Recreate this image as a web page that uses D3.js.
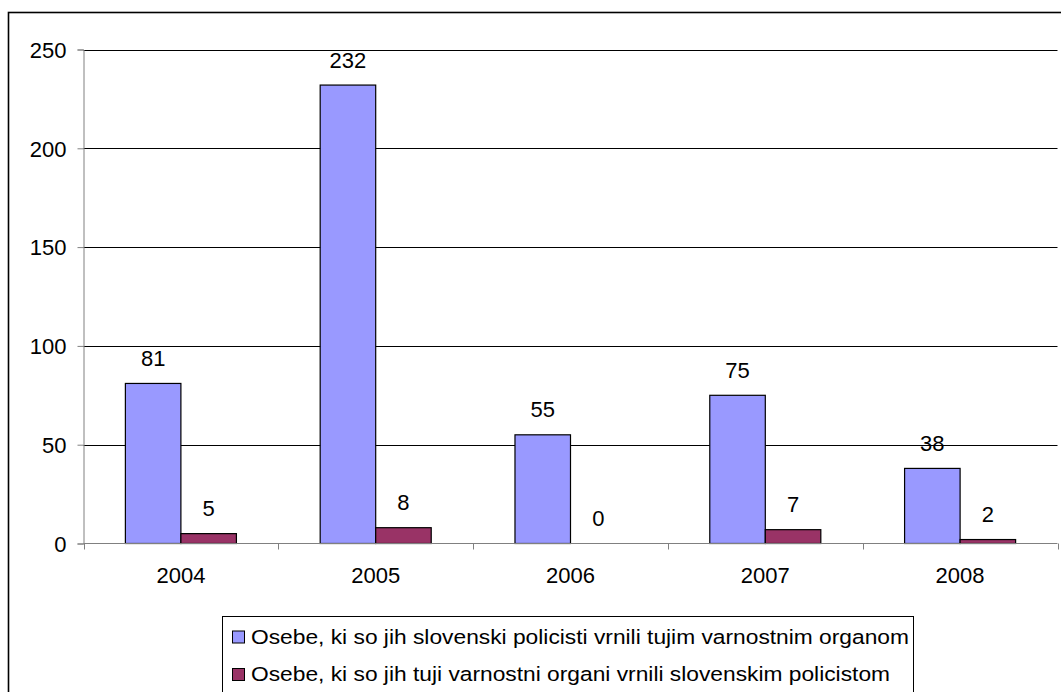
<!DOCTYPE html>
<html>
<head>
<meta charset="utf-8">
<script src="https://cdn.jsdelivr.net/npm/d3@7"></script>
<style>
  html, body { margin: 0; padding: 0; background: #fff; overflow: hidden; }
  text { font-family: "Liberation Sans", Arial, sans-serif; fill: #000; }
</style>
</head>
<body>
<svg id="chart" width="1061" height="692"></svg>
<script>
const categories = ["2004", "2005", "2006", "2007", "2008"];
const seriesNames = [
  "Osebe, ki so jih slovenski policisti vrnili tujim varnostnim organom",
  "Osebe, ki so jih tuji varnostni organi vrnili slovenskim policistom"
];
const returnedBySlovenian = [81, 232, 55, 75, 38];
const returnedToSlovenian = [5, 8, 0, 7, 2];
const yTicks = [0, 50, 100, 150, 200, 250];
const colors = ["#9999FF", "#993366"];

const svg = d3.select("#chart");
const W = 1061, H = 692;
const FS = 22;

// outer chart border
svg.append("rect")
  .attr("x", 8.5).attr("y", 12.5)
  .attr("width", W + 20).attr("height", H + 20)
  .attr("fill", "none").attr("stroke", "#000").attr("stroke-width", 1.6);

const plot = { left: 83.5, right: 1057.5, top: 49.5, bottom: 543.5 };

const x = d3.scaleBand().domain(categories).range([plot.left, plot.right]);
const y = d3.scaleLinear().domain([0, 250]).range([plot.bottom, plot.top]);
const bw = x.bandwidth() * 0.285;

// gridlines
svg.append("g").selectAll("line")
  .data(yTicks.filter(d => d > 0))
  .join("line")
  .attr("x1", plot.left).attr("x2", plot.right)
  .attr("y1", d => Math.round(y(d)) + 0.5).attr("y2", d => Math.round(y(d)) + 0.5)
  .attr("stroke", "#000").attr("stroke-width", 1);

// y axis
const yAxis = d3.axisLeft(y).tickValues(yTicks).tickSize(6).tickPadding(11)
  .tickFormat(d3.format("d"));
const gy = svg.append("g").attr("transform", `translate(${plot.left},0)`).call(yAxis);
gy.select(".domain").attr("stroke", "#808080");
gy.selectAll(".tick line").attr("stroke", "#808080");
gy.selectAll(".tick text").attr("font-size", FS).attr("font-family", "Liberation Sans, Arial, sans-serif").attr("dy", "0.35em");

// bars
const series = [returnedBySlovenian, returnedToSlovenian];
series.forEach((vals, si) => {
  svg.append("g").selectAll("rect")
    .data(vals.map((v, i) => ({ v, c: categories[i] })))
    .join("rect")
    .attr("x", d => x(d.c) + x.bandwidth() / 2 - bw + si * bw)
    .attr("y", d => y(d.v))
    .attr("width", bw)
    .attr("height", d => y(0) - y(d.v))
    .attr("fill", colors[si])
    .attr("stroke", "#000").attr("stroke-width", 1.2);
  svg.append("g").selectAll("text")
    .data(vals.map((v, i) => ({ v, c: categories[i] })))
    .join("text")
    .attr("x", d => x(d.c) + x.bandwidth() / 2 - bw / 2 + si * bw)
    .attr("y", d => y(d.v) - 17.5)
    .attr("text-anchor", "middle")
    .attr("font-size", FS)
    .text(d => d.v);
});

// x axis (with boundary ticks)
svg.append("line")
  .attr("x1", plot.left).attr("x2", plot.right)
  .attr("y1", plot.bottom).attr("y2", plot.bottom)
  .attr("stroke", "#808080").attr("stroke-width", 1.2);
const bounds = categories.map(c => x(c)).concat([plot.right]);
svg.append("g").selectAll("line")
  .data(bounds)
  .join("line")
  .attr("x1", d => Math.round(d) + 0.5).attr("x2", d => Math.round(d) + 0.5)
  .attr("y1", plot.bottom).attr("y2", plot.bottom + 6)
  .attr("stroke", "#808080");
svg.append("g").selectAll("text")
  .data(categories)
  .join("text")
  .attr("x", d => x(d) + x.bandwidth() / 2)
  .attr("y", 583)
  .attr("text-anchor", "middle")
  .attr("font-size", FS)
  .text(d => d);

// legend
const lg = svg.append("g");
lg.append("rect")
  .attr("x", 222.5).attr("y", 616.5)
  .attr("width", 691).attr("height", 120)
  .attr("fill", "#fff").attr("stroke", "#000").attr("stroke-width", 1);
const rows = [643.5, 681];
const texts = [];
seriesNames.forEach((name, i) => {
  lg.append("rect")
    .attr("x", 232.5).attr("y", rows[i] - 12.5)
    .attr("width", 12).attr("height", 12)
    .attr("fill", colors[i]).attr("stroke", "#000").attr("stroke-width", 1);
  texts.push(lg.append("text")
    .attr("x", 251).attr("y", rows[i])
    .attr("font-size", 20.5)
    .text(name));
});
const natural0 = texts[0].node().getComputedTextLength();
const factor = 658 / natural0;
texts.forEach(t => {
  const n = t.node().getComputedTextLength();
  t.attr("textLength", n * factor).attr("lengthAdjust", "spacingAndGlyphs");
});
</script>
</body>
</html>
